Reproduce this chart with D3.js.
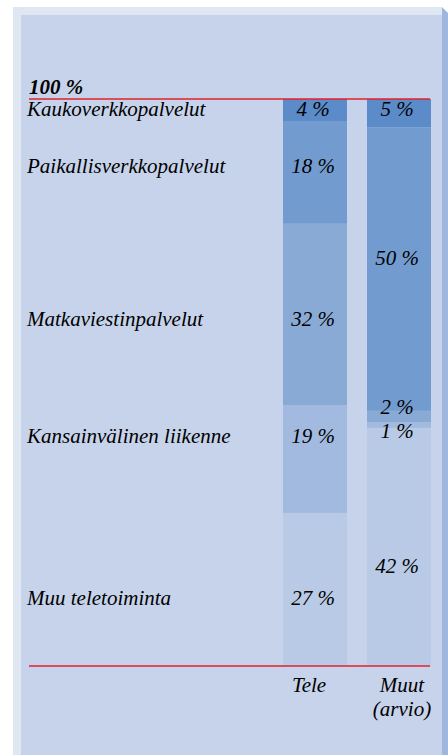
<!DOCTYPE html>
<html>
<head>
<meta charset="utf-8">
<script src="https://cdn.jsdelivr.net/npm/d3@7"></script>
<style>
  body { margin: 0; background: #fff; }
</style>
</head>
<body>
<div id="chart"></div>
<script>
// categories, bottom of the stack first
var categories = ["Muu teletoiminta", "Kansainvälinen liikenne", "Matkaviestinpalvelut",
                  "Paikallisverkkopalvelut", "Kaukoverkkopalvelut"];
var columns = ["Tele", "Muut"];
var teleValues = [27, 19, 32, 18, 4];
var muutValues = [42, 1, 2, 50, 5];
var colLabels = [["Tele"], ["Muut", "(arvio)"]];

// where the texts sit, in percent on the same scale
var catLabelAt = [10.8, 39.3, 60.0, 87.0, 97.0];
var teleLabelAt = [10.8, 39.3, 60.0, 87.0, 97.0];
var muutLabelAt = [16.4, 40.2, 44.5, 70.7, 97.0];

var colors = ["#b9cae6", "#a2badf", "#8aaad6", "#729ccf", "#5b8bc8"];
var FONT = "'Times New Roman', Times, 'Liberation Serif', 'DejaVu Serif', serif";

var W = 448, H = 755;
var svg = d3.select("#chart").append("svg")
    .attr("width", W)
    .attr("height", H)
    .style("font-family", FONT)
    .style("font-style", "italic");

// frame
svg.append("rect").attr("x", 13).attr("y", 7).attr("width", 429).attr("height", H - 7)
    .attr("fill", "#dfe7f3");
svg.append("rect").attr("x", 21).attr("y", 15).attr("width", 421).attr("height", H - 15)
    .attr("fill", "#c6d3ea");
svg.append("polygon").attr("points", "442,7 448,13 448," + H + " 442," + H)
    .attr("fill", "#9fb6de");

var y = d3.scaleLinear().domain([0, 100]).range([666, 99]);
var x = d3.scaleBand().domain(columns).range([283, 431])
    .paddingInner(20 / 84).paddingOuter(0);

var table = categories.map(function(c, i) {
  return {cat: c, Tele: teleValues[i], Muut: muutValues[i]};
});
// one stack per column, so transpose: rows = columns, keys = categories
var rows = columns.map(function(col) {
  var r = {col: col};
  table.forEach(function(d) { r[d.cat] = d[col]; });
  return r;
});
var series = d3.stack().keys(categories)(rows);

svg.append("g").selectAll("g")
    .data(series)
  .enter().append("g")
    .attr("fill", function(d, i) { return colors[i]; })
  .selectAll("rect")
    .data(function(d) { return d; })
  .enter().append("rect")
    .attr("x", function(d) { return x(d.data.col); })
    .attr("width", x.bandwidth())
    .attr("y", function(d) { return y(d[1]); })
    .attr("height", function(d) { return y(d[0]) - y(d[1]); });

// red lines at 100 % and 0 %
[100, 0].forEach(function(v) {
  svg.append("line")
      .attr("x1", 29).attr("x2", 430)
      .attr("y1", y(v)).attr("y2", y(v))
      .attr("stroke", "#e3212b")
      .attr("stroke-width", 1.5);
});

svg.append("text")
    .attr("x", 29).attr("y", y(100) - 5)
    .style("font-size", "21px")
    .style("font-weight", "bold")
    .text("100 %");

svg.selectAll(".cat")
    .data(categories)
  .enter().append("text")
    .attr("class", "cat")
    .attr("x", 27)
    .attr("y", function(d, i) { return y(catLabelAt[i]); })
    .style("font-size", "21px")
    .text(function(d) { return d; });

function valueLabels(col, vals, at) {
  svg.selectAll(".v" + col)
      .data(vals)
    .enter().append("text")
      .attr("class", "v" + col)
      .attr("x", x(col) + x.bandwidth() / 2 - 2)
      .attr("y", function(d, i) { return y(at[i]); })
      .attr("text-anchor", "middle")
      .style("font-size", "21px")
      .text(function(d) { return d + " %"; });
}
valueLabels("Tele", teleValues, teleLabelAt);
valueLabels("Muut", muutValues, muutLabelAt);

columns.forEach(function(col, i) {
  colLabels[i].forEach(function(t, j) {
    svg.append("text")
        .attr("x", x(col) + x.bandwidth() / 2 - (i == 0 ? 6 : -3))
        .attr("y", 692 + j * 24)
        .attr("text-anchor", "middle")
        .style("font-size", "21px")
        .text(t);
  });
});
</script>
</body>
</html>
